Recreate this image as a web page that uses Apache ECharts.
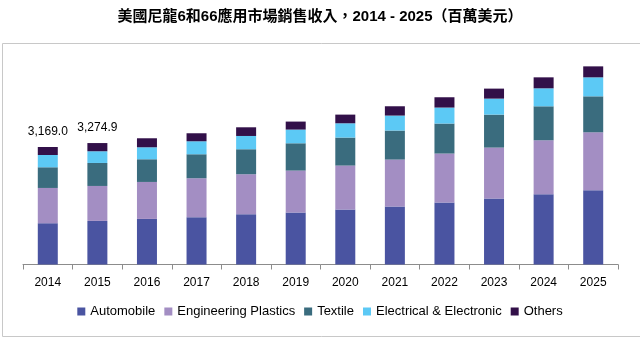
<!DOCTYPE html>
<html>
<head>
<meta charset="utf-8">
<style>
  html, body { margin: 0; padding: 0; background: #fff; }
  #chart { width: 640px; height: 339px; }
</style>
<script src="https://cdn.jsdelivr.net/npm/echarts@6/dist/echarts.min.js"></script>
</head>
<body>
<div id="chart"></div>
<script>
// Nylon 6 & 66 application revenue, USD million
const years = ['2014', '2015', '2016', '2017', '2018', '2019', '2020', '2021', '2022', '2023', '2024', '2025'];
const automobile  = [1113, 1175, 1229, 1275, 1356, 1401, 1482, 1563, 1671, 1779, 1895, 2002];
const engineering = [951, 943, 997, 1051, 1078, 1132, 1186, 1267, 1321, 1374, 1455, 1563];
const textile     = [558, 620, 612, 647, 674, 736, 755, 782, 809, 889, 916, 970];
const electrical  = [331, 316, 323, 350, 358, 369, 385, 404, 431, 431, 485, 512];
const others      = [216, 220.9, 243, 216, 234, 216, 234, 251, 278, 270, 296, 296];
// Years whose stacked total is printed above the bar
const labelledYears = ['2014', '2015'];

const seriesDefs = [
  { name: 'Automobile', data: automobile, color: '#4a54a1' },
  { name: 'Engineering Plastics', data: engineering, color: '#a38ec3' },
  { name: 'Textile', data: textile, color: '#3a6c7e' },
  { name: 'Electrical & Electronic', data: electrical, color: '#5cc9f5' },
  { name: 'Others', data: others, color: '#321049' }
];

const totals = years.map((_, i) => seriesDefs.reduce((s, d) => s + d.data[i], 0));

const fontFamily = '"Liberation Sans", Arial, "Noto Sans CJK TC", sans-serif';

const series = seriesDefs.map((d, si) => {
  const isTop = si === seriesDefs.length - 1;
  return {
    name: d.name,
    type: 'bar',
    stack: 'total',
    barWidth: 20,
    itemStyle: { color: d.color },
    data: d.data.map((v, i) => {
      const item = { value: v };
      if (isTop && labelledYears.includes(years[i])) {
        item.label = {
          show: true,
          position: 'top',
          distance: 9,
          color: '#000',
          fontSize: 12,
          fontFamily: fontFamily,
          formatter: () => totals[i].toLocaleString('en-US', { minimumFractionDigits: 1, maximumFractionDigits: 1 })
        };
      }
      return item;
    })
  };
});

const chart = echarts.init(document.getElementById('chart'), null, { renderer: 'canvas' });
chart.setOption({
  animation: false,
  backgroundColor: '#fff',
  title: {
    text: '美國尼龍6和66應用市場銷售收入，2014 - 2025（百萬美元）',
    left: 'center',
    top: 4,
    textStyle: {
      fontSize: 15,
      fontWeight: 'bold',
      color: '#000',
      fontFamily: fontFamily
    }
  },
  legend: {
    bottom: 16,
    left: 'center',
    itemWidth: 8,
    itemHeight: 8,
    itemGap: 9,
    icon: 'rect',
    textStyle: { fontSize: 13, color: '#000', fontFamily: fontFamily },
    data: seriesDefs.map(d => d.name)
  },
  graphic: [{
    type: 'rect',
    shape: { x: 2.5, y: 43.5, width: 700, height: 293 },
    style: { fill: 'none', stroke: '#c8c8c8', lineWidth: 1 },
    silent: true,
    z: -1
  }],
  grid: { left: 23, right: 22, top: 42, bottom: 74.5 },
  xAxis: {
    type: 'category',
    data: years,
    axisLine: { lineStyle: { color: '#8c8c8c', width: 1 } },
    axisTick: { show: true, length: 5, lineStyle: { color: '#8c8c8c' } },
    axisLabel: { color: '#000', fontSize: 12, margin: 12, fontFamily: fontFamily }
  },
  yAxis: {
    type: 'value',
    min: 0,
    max: 6000,
    show: false,
    splitLine: { show: false }
  },
  series: series
});
</script>
</body>
</html>
